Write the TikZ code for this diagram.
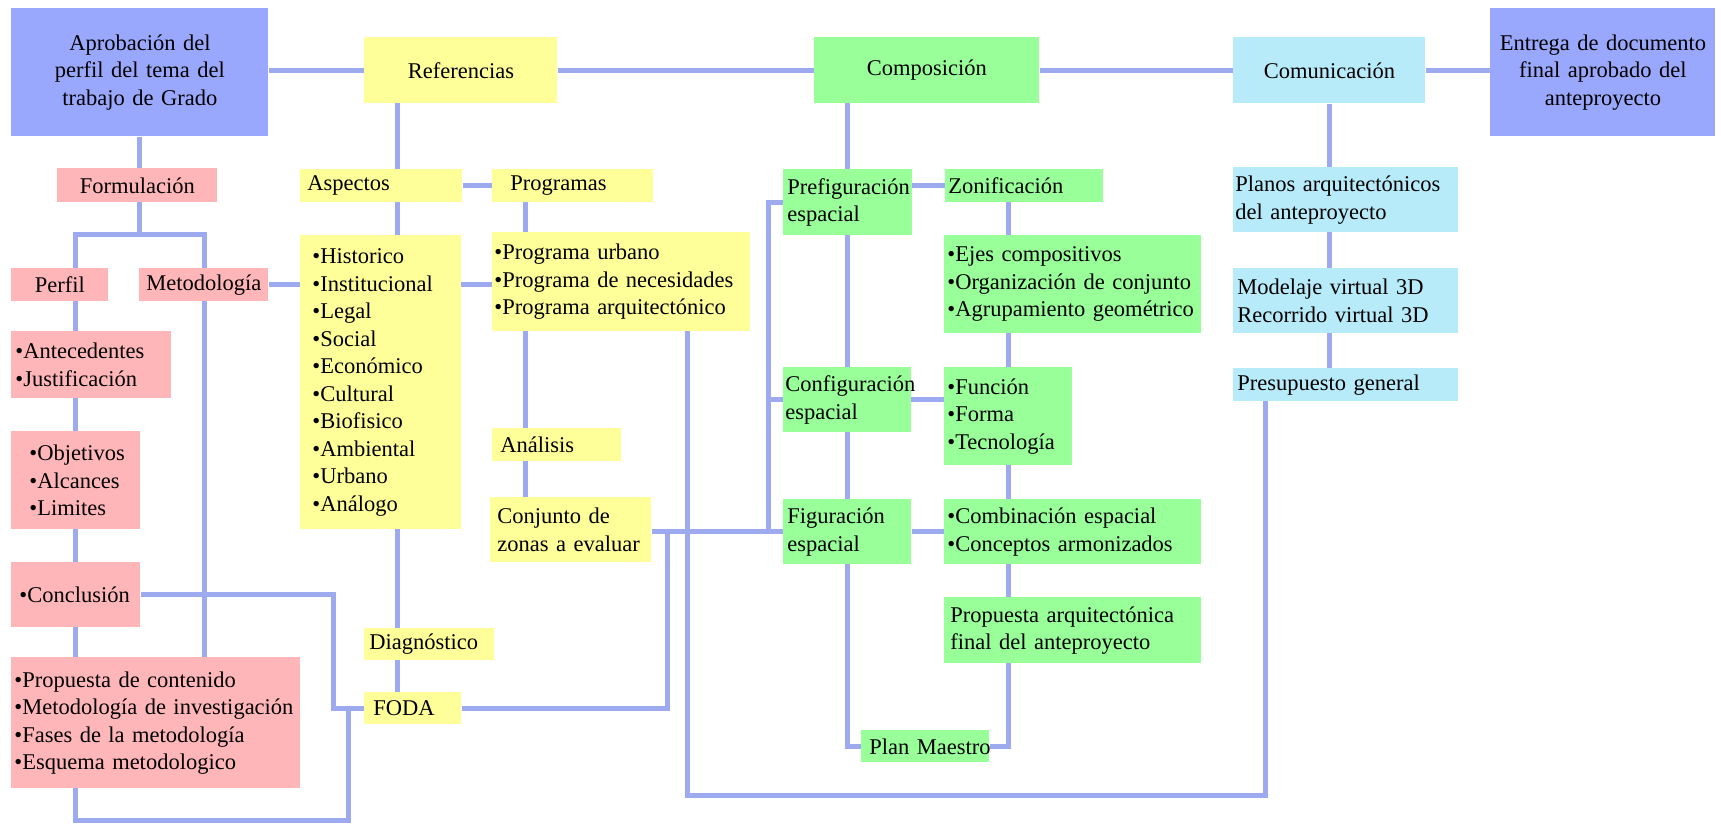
\documentclass[tikz,border=0pt]{standalone}
\usepackage{fontspec}
\setmainfont{Liberation Serif}
\usetikzlibrary{positioning}
\pgfdeclarelayer{bg}
\pgfsetlayers{bg,main}
\hyphenpenalty=10000
\exhyphenpenalty=10000
\definecolor{linec}{RGB}{158,170,240}
\definecolor{bluec}{RGB}{153,168,252}
\definecolor{pinkc}{RGB}{255,182,185}
\definecolor{yelc}{RGB}{255,255,153}
\definecolor{greenc}{RGB}{153,255,153}
\definecolor{cyanc}{RGB}{183,235,250}
\newcommand\boxfont{\fontsize{11.25}{13.75}\selectfont}
\tikzset{
  box/.style={rectangle,anchor=north west,inner ysep=0pt,inner xsep=2pt,align=left,font=\boxfont},
  sz/.style 2 args={minimum width=#1*0.5pt,minimum height=#2*0.5pt,
    text width=#1*0.5pt-2*\pgfkeysvalueof{/pgf/inner xsep}},
  bluebox/.style={box,fill=bluec},
  pinkbox/.style={box,fill=pinkc},
  yelbox/.style={box,fill=yelc},
  greenbox/.style={box,fill=greenc},
  cyanbox/.style={box,fill=cyanc},
  link/.style={draw=linec,line width=2.5pt}
}

\begin{document}
\begin{tikzpicture}[x=0.5pt,y=-0.5pt]
\useasboundingbox (0,0) rectangle (1721,829);
\node[bluebox,sz={257}{128},align=center] (aprob) at (11,8) {Aprobación del\\perfil del tema del\\trabajo de Grado};
\node[yelbox,sz={193}{66},align=center] (refs) at (364,37) {Referencias};
\node[greenbox,sz={225}{66},align=center] (compo) at (814,37) {Composición};
\node[cyanbox,sz={192}{66},align=center] (comun) at (1233,37) {Comunicación};
\node[bluebox,sz={225}{128},align=center] (entrega) at (1490,8) {Entrega de documento\\final aprobado del\\anteproyecto};

\node[pinkbox,sz={160}{34},align=center] (formul) at (57,168) {Formulación};
\node[pinkbox,sz={97}{33},align=center] (perfil) at (11,268) {Perfil};
\node[pinkbox,sz={129}{33},align=center] (metodo) at (139,268) {Metodología};
\node[pinkbox,sz={160}{67}] (antec) at (11,331) {•Antecedentes\\•Justificación};
\node[pinkbox,sz={129}{98},inner xsep=9pt] (objet) at (11,431) {•Objetivos\\•Alcances\\•Limites};
\node[pinkbox,sz={129}{65},inner xsep=4pt] (concl) at (11,562) {•Conclusión};
\node[pinkbox,sz={289}{131},inner xsep=1.5pt] (propc) at (11,657) {•Propuesta de contenido\\•Metodología de~investigación\\•Fases de la metodología\\•Esquema metodologico};

\node[yelbox,sz={162}{33},inner xsep=3.5pt] (aspectos) at (300,169) {Aspectos};
\node[yelbox,sz={161}{33},inner xsep=9pt] (programas) at (492,169) {Programas};
\node[yelbox,sz={161}{294},inner xsep=6pt] (aspectlist) at (300,235) {•Historico\\•Institucional\\•Legal\\•Social\\•Económico\\•Cultural\\•Biofisico\\•Ambiental\\•Urbano\\•Análogo};
\node[yelbox,sz={258}{99},inner xsep=1pt] (proglist) at (492,232) {•Programa urbano\\•Programa de necesidades\\•Programa arquitectónico};
\node[yelbox,sz={129}{33},inner xsep=4pt] (analisis) at (492,428) {Análisis};
\node[yelbox,sz={161}{65},inner xsep=3.5pt] (conjunto) at (490,497) {Conjunto de\\zonas a~evaluar};
\node[yelbox,sz={130}{32},inner xsep=2.5pt] (diag) at (364,628) {Diagnóstico};
\node[yelbox,sz={97}{32},inner xsep=4.5pt] (foda) at (364,692) {FODA};

\node[greenbox,sz={129}{66}] (prefig) at (783,169) {Prefiguración\\espacial};
\node[greenbox,sz={158}{33},inner xsep=1.5pt] (zonif) at (945,169) {Zonificación};
\node[greenbox,sz={257}{98},inner xsep=1.5pt] (ejes) at (944,235) {•Ejes compositivos\\•Organización de~conjunto\\•Agrupamiento~geométrico};
\node[greenbox,sz={128}{65},inner xsep=1pt] (config) at (783,367) {Configuración\\espacial};
\node[greenbox,sz={128}{98},inner xsep=1.5pt] (funcion) at (944,367) {•Función\\•Forma\\•Tecnología};
\node[greenbox,sz={128}{65}] (figur) at (783,499) {Figuración\\espacial};
\node[greenbox,sz={257}{65},inner xsep=1.5pt] (combin) at (944,499) {•Combinación espacial\\•Conceptos armonizados};
\node[greenbox,sz={257}{66},inner xsep=3pt] (propfin) at (944,597) {Propuesta arquitectónica\\final del anteproyecto};
\node[greenbox,sz={128}{32},inner xsep=4pt] (plan) at (861,730) {Plan~Maestro};

\node[cyanbox,sz={225}{65},inner xsep=1pt] (planos) at (1233,167) {Planos arquitectónicos\\del anteproyecto};
\node[cyanbox,sz={225}{65},inner xsep=2pt] (modelaje) at (1233,268) {Modelaje virtual 3D\\Recorrido virtual 3D};
\node[cyanbox,sz={225}{33},inner xsep=2pt] (presup) at (1233,368) {Presupuesto general};

\coordinate (barl) at (75,235);
\coordinate (bar) at (204,235);
\coordinate (lowl) at (75,820);
\coordinate (loop) at (348,820);
\coordinate (cfk) at (333,0);
\coordinate (ax) at (397,0);
\coordinate (px) at (525,0);
\coordinate (fk) at (667,0);
\coordinate (b1) at (687,795);
\coordinate (b2) at (1265,795);
\coordinate (bus) at (768,0);
\coordinate (gx) at (1008,0);

\begin{pgfonlayer}{bg}
\fill[white] (0,0) rectangle (1721,829);
\draw[link] (aprob.east |- refs) -- (refs) -- (compo) -- (comun) -- (comun -| entrega.west);
\draw[link] (aprob) -- (aprob |- barl);
\draw[link] (barl |- perfil) -- (barl) -- (bar) -- (bar |- propc);
\draw[link] (barl) -- (lowl) -| (loop |- foda);
\draw[link] (metodo) -- (proglist.west |- metodo);
\draw[link] (concl) -| (cfk |- foda) -- (foda);
\draw[link] (ax |- refs) -- (ax |- foda);
\draw[link] (aspectos) -- (programas);
\draw[link] (px |- programas) -- (px |- conjunto);
\draw[link] (conjunto.east |- figur) -- (figur);
\draw[link] (foda) -| (fk |- figur);
\draw[link] (b1 |- proglist) -- (b1) -- (b2) -- (b2 |- presup);
\draw[link] (prefig) -| (bus |- figur);
\draw[link] (bus |- config) -- (config -| funcion);
\draw[link] (prefig |- compo) -- (prefig |- plan) -- (plan);
\draw[link] (zonif) -- (zonif -| prefig);
\draw[link] (gx |- zonif) -- (gx |- plan) -- (plan);
\draw[link] (figur) -- (combin);
\draw[link] (comun) -- (comun |- presup);
\end{pgfonlayer}
\end{tikzpicture}
\end{document}
